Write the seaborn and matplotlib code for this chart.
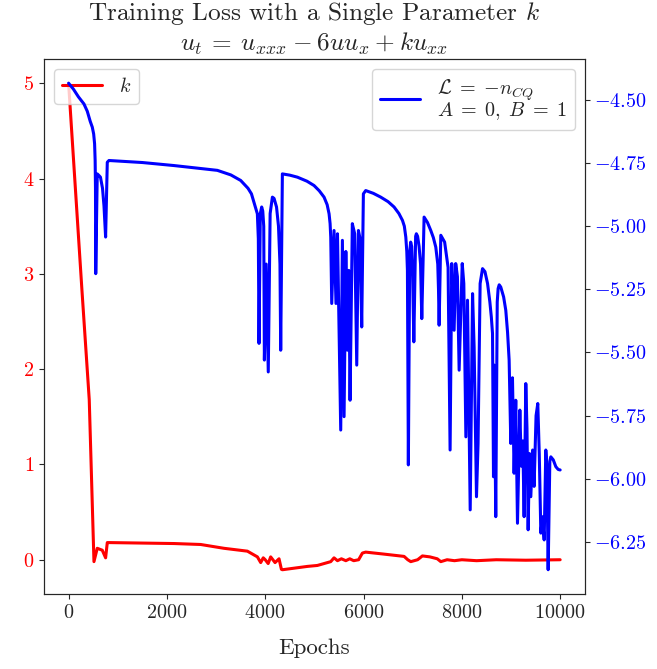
import matplotlib
matplotlib.use("Agg")
import matplotlib.pyplot as plt
import seaborn as sns
import pandas as pd

# k parameter (left axis)
k_epochs = [0, 270, 420, 516, 583, 685, 753, 787, 821, 2144, 2687, 3161, 3637,
            3841, 3908, 3960, 4000, 4060, 4111, 4200, 4281, 4329, 4349, 4858,
            5061, 5333, 5400, 5470, 5550, 5640, 5720, 5800, 5900, 5977, 6044,
            6400, 6825, 6900, 6961, 7100, 7198, 7350, 7500, 7572, 7700, 7850,
            8000, 8300, 8700, 9300, 10000]
k_values = [5.0, 2.84, 1.68, -0.02, 0.12, 0.10, 0.02, 0.18, 0.18, 0.17, 0.16,
            0.12, 0.09, 0.03, -0.03, 0.02, 0.0, -0.04, 0.03, -0.03, 0.01, -0.10,
            -0.105, -0.07, -0.06, -0.02, 0.02, -0.01, 0.01, -0.01, 0.01, -0.01,
            0.0, 0.07, 0.08, 0.06, 0.035, 0.0, -0.02, 0.0, 0.04, 0.03, 0.01,
            -0.02, 0.0, -0.01, 0.0, -0.01, 0.0, -0.005, 0.0]

# loss (right axis)
loss_epochs = [0, 100, 200, 312, 380, 440, 482, 510, 529, 540, 547, 552,
               583, 620, 648, 690, 720, 753, 787,
               821, 1500, 2144, 2700, 3026, 3300, 3501, 3650, 3720, 3771, 3810,
               3840, 3860, 3874, 3900, 3928, 3950, 3970, 3983, 4020, 4062, 4100,
               4146, 4180, 4230, 4270, 4300, 4315, 4349,
               4500, 4655, 4850, 4993, 5100, 5197, 5260, 5299, 5320, 5333, 5353,
               5400, 5440, 5470, 5536, 5570, 5604, 5640, 5672, 5700, 5726, 5772,
               5820, 5862, 5896, 5930, 5963, 5997, 6044,
               6200, 6350, 6500, 6621, 6720, 6792, 6830, 6860, 6880, 6893, 6912,
               6940, 6959, 6980, 7000, 7023, 7060, 7075, 7100, 7130, 7160, 7185,
               7232, 7300, 7368, 7420, 7470, 7510, 7525, 7538, 7572, 7650, 7720,
               7761, 7795, 7843, 7875, 7910, 7945, 8008, 8040, 8082, 8115, 8170,
               8218, 8250, 8298, 8330, 8372, 8421, 8470, 8523, 8570, 8600, 8624,
               8644, 8660, 8690, 8720, 8738, 8760, 8792, 8850, 8894, 8930, 8962,
               8996, 9030, 9063, 9097, 9132, 9180, 9210, 9240, 9267, 9301, 9325,
               9349, 9375, 9403, 9440, 9470, 9510, 9545, 9575, 9607, 9640, 9675,
               9708, 9730, 9756, 9790, 9810, 9860, 9912, 9960, 10000]
loss_values = [-4.434, -4.458, -4.488, -4.516, -4.545, -4.585, -4.608, -4.635,
               -4.674, -4.74, -4.85, -5.188,
               -4.793, -4.800, -4.806, -4.85, -4.92, -5.043, -4.747,
               -4.740, -4.748, -4.760, -4.772, -4.779, -4.797, -4.819, -4.850,
               -4.872, -4.905, -4.93, -4.951, -5.05, -5.464, -4.95, -4.924,
               -4.94, -5.00, -5.530, -5.15, -5.577, -4.95, -4.885, -4.89,
               -4.924, -5.00, -5.15, -5.491, -4.793,
               -4.798, -4.806, -4.822, -4.839, -4.860, -4.885, -4.915, -4.951,
               -4.99, -5.043, -5.306,
               -5.017, -5.306, -5.030, -5.807, -5.056, -5.754, -5.10, -5.491,
               -5.175, -5.689, -4.990, -5.030, -5.550, -5.017, -5.05, -5.399,
               -4.872, -4.859,
               -4.870, -4.885, -4.903, -4.924, -4.950, -4.977, -5.00, -5.043,
               -5.10, -5.175, -5.945,
               -5.10, -5.063, -5.08, -5.20, -5.458, -5.04, -5.030, -5.04, -5.08,
               -5.15, -5.366,
               -4.964, -4.985, -5.017, -5.045, -5.083, -5.15, -5.25, -5.392,
               -5.036, -5.063, -5.163,
               -5.886, -5.148, -5.412, -5.148, -5.20, -5.570, -5.148, -5.227,
               -5.834, -5.293, -6.123, -5.267, -5.48, -6.071, -5.86, -5.227,
               -5.168, -5.18, -5.227, -5.30, -5.36, -5.425,
               -5.992, -5.55, -6.150, -5.30, -5.247, -5.232, -5.241, -5.28,
               -5.333, -5.42, -5.530,
               -5.860, -5.60, -5.978, -5.689, -6.176, -5.728, -5.95, -5.85,
               -6.150, -5.623, -5.80, -6.202, -5.90, -6.071, -5.886, -6.03,
               -5.75, -5.702, -5.90, -6.215, -6.15, -6.242,
               -5.886, -5.95, -6.360, -5.93, -5.913, -5.925, -5.952, -5.963,
               -5.965]

x_ticks = [0, 2000, 4000, 6000, 8000, 10000]
left_ticks = [0, 1, 2, 3, 4, 5]
right_ticks = [-4.50, -4.75, -5.00, -5.25, -5.50, -5.75, -6.00, -6.25]

sns.set_style("ticks")
plt.rcParams["font.family"] = "serif"
plt.rcParams["font.serif"] = ["cmr10", "DejaVu Serif"]
plt.rcParams["mathtext.fontset"] = "cm"
plt.rcParams["axes.formatter.use_mathtext"] = True
plt.rcParams["font.size"] = 14.5

k_df = pd.DataFrame({"Epochs": k_epochs, "k": k_values})
loss_df = pd.DataFrame({"Epochs": loss_epochs, "loss": loss_values})

fig, ax = plt.subplots(figsize=(6.57, 6.69), dpi=100)
fig.subplots_adjust(left=0.067, right=0.890, top=0.912, bottom=0.112)
ax2 = ax.twinx()

sns.lineplot(data=k_df, x="Epochs", y="k", ax=ax, color="red", lw=2.2,
             label="$k$", estimator=None, sort=False)
sns.lineplot(data=loss_df, x="Epochs", y="loss", ax=ax2, color="blue", lw=2.2,
             label="$\\mathcal{L} \\;=\\; {-}n_{CQ}$\n$A \\;=\\; 0,\\; B \\;=\\; 1$",
             estimator=None, sort=False)

ax.set_xticks(x_ticks)
ax.set_yticks(left_ticks)
ax2.set_yticks(right_ticks)
ax.set_ylabel("")
ax2.set_ylabel("")
ax.set_xlabel("Epochs", fontsize=16.5, labelpad=12)
ax.tick_params(axis="y", labelcolor="red", labelsize=14.5)
ax.tick_params(axis="x", labelsize=14.5)
ax2.tick_params(axis="y", labelcolor="blue", labelsize=14.5)

ax.legend(loc="upper left", fontsize=14.5)
leg = ax2.legend(loc="upper right", fontsize=14.5)
for t in leg.get_texts():
    t.set_linespacing(0.85)

ax.set_title("Training Loss with a Single Parameter $k$\n"
             "$u_t \\:=\\: u_{xxx} \\:-\\: 6uu_x \\:+\\: ku_{xx}$", fontsize=18.2)

plt.savefig("out.png", dpi=100)
